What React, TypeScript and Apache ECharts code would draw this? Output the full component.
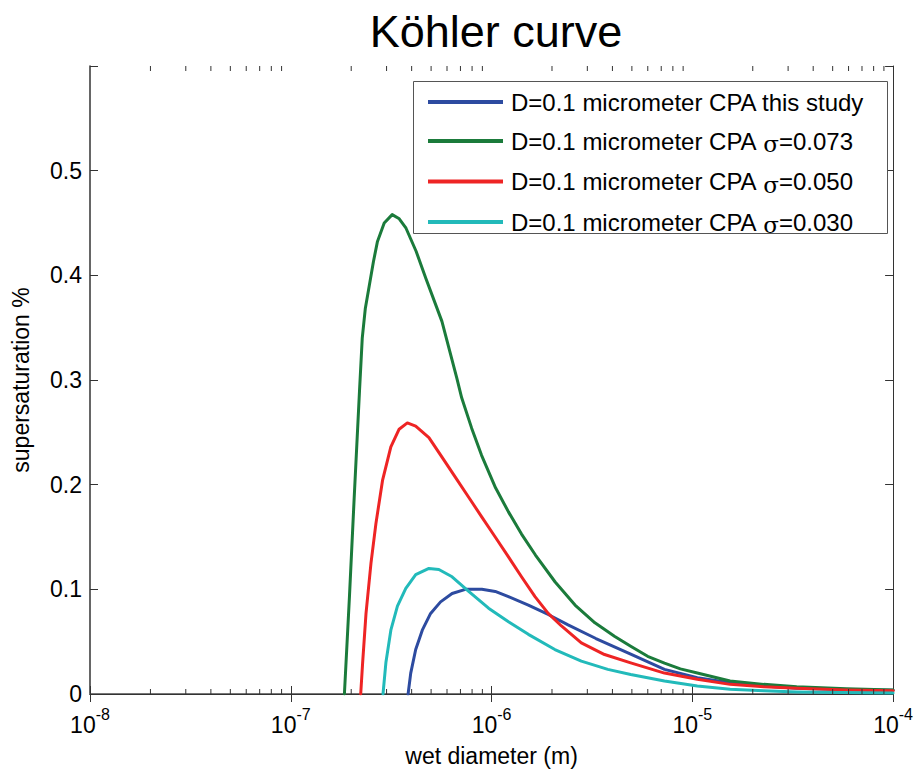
import React, { useEffect, useRef } from "react";
import * as echarts from "echarts";

// ---- data ----
const seriesNames = [
  "D=0.1 micrometer CPA this study",
  "D=0.1 micrometer CPA σ=0.073",
  "D=0.1 micrometer CPA σ=0.050",
  "D=0.1 micrometer CPA σ=0.030",
];
const seriesColors = ["#2D4BA0", "#1B7B3B", "#EE2424", "#22BABA"];

// this study
const diamStudy = [3.84e-7, 3.958e-7, 4.19e-7, 4.519e-7, 4.972e-7, 5.572e-7, 6.36e-7, 7.41e-7, 8.95e-7, 1.043e-6, 1.214e-6, 1.525e-6, 1.915e-6, 2.405e-6, 3.31e-6, 4.933e-6, 7.267e-6, 1.059e-5, 1.542e-5, 2.272e-5, 3.31e-5, 7.1e-5, 1e-4];
const ssStudy = [0, 0.02, 0.0425, 0.061, 0.077, 0.088, 0.096, 0.1, 0.1, 0.098, 0.093, 0.085, 0.076, 0.066, 0.053, 0.038, 0.0235, 0.0155, 0.0107, 0.0076, 0.0054, 0.0038, 0.0035];

// sigma = 0.073
const diam073 = [1.85e-7, 1.96e-7, 2.07e-7, 2.2e-7, 2.27e-7, 2.35e-7, 2.46e-7, 2.58e-7, 2.7e-7, 2.92e-7, 3.2e-7, 3.47e-7, 3.75e-7, 4.21e-7, 4.71e-7, 5.66e-7, 6.71e-7, 7.1e-7, 7.96e-7, 8.92e-7, 1.047e-6, 1.214e-6, 1.408e-6, 1.651e-6, 2.074e-6, 2.605e-6, 3.272e-6, 4.111e-6, 4.933e-6, 5.99e-6, 7.267e-6, 8.72e-6, 1.059e-5, 1.542e-5, 2.272e-5, 3.31e-5, 5.852e-5, 1e-4];
const ss073 = [0, 0.093, 0.188, 0.29, 0.34, 0.368, 0.39, 0.413, 0.432, 0.45, 0.458, 0.454, 0.445, 0.423, 0.397, 0.356, 0.302, 0.283, 0.254, 0.228, 0.197, 0.174, 0.153, 0.133, 0.107, 0.085, 0.068, 0.055, 0.0456, 0.036, 0.0295, 0.024, 0.02, 0.0124, 0.0092, 0.0069, 0.005, 0.0038];

// sigma = 0.050
const diam050 = [2.23e-7, 2.28e-7, 2.37e-7, 2.509e-7, 2.656e-7, 2.864e-7, 3.151e-7, 3.465e-7, 3.807e-7, 4.19e-7, 4.876e-7, 5.675e-7, 6.61e-7, 7.693e-7, 8.95e-7, 1.043e-6, 1.214e-6, 1.41e-6, 1.646e-6, 1.915e-6, 2.229e-6, 2.8e-6, 3.655e-6, 4.933e-6, 7.267e-6, 1.059e-5, 1.542e-5, 2.272e-5, 3.31e-5, 5.852e-5, 1e-4];
const ss050 = [0, 0.03, 0.077, 0.125, 0.163, 0.204, 0.236, 0.253, 0.259, 0.256, 0.245, 0.226, 0.207, 0.188, 0.169, 0.15, 0.131, 0.112, 0.093, 0.077, 0.065, 0.0488, 0.0377, 0.0298, 0.02, 0.014, 0.0092, 0.0069, 0.0054, 0.0038, 0.003];

// sigma = 0.030
const diam030 = [2.88e-7, 2.977e-7, 3.151e-7, 3.398e-7, 3.74e-7, 4.19e-7, 4.876e-7, 5.465e-7, 6.36e-7, 7.693e-7, 9.663e-7, 1.214e-6, 1.525e-6, 2.067e-6, 2.8e-6, 3.795e-6, 4.933e-6, 7.267e-6, 1.059e-5, 1.542e-5, 2.272e-5, 3.31e-5, 7.1e-5, 1e-4];
const ss030 = [0, 0.03, 0.061, 0.084, 0.101, 0.114, 0.12, 0.119, 0.112, 0.098, 0.082, 0.069, 0.057, 0.0425, 0.0314, 0.0235, 0.0187, 0.0124, 0.0076, 0.0045, 0.003, 0.002, 0.0013, 0.001];

const minorTickValues = [
  2e-8, 3e-8, 4e-8, 5e-8, 6e-8, 7e-8, 8e-8, 9e-8,
  2e-7, 3e-7, 4e-7, 5e-7, 6e-7, 7e-7, 8e-7, 9e-7,
  2e-6, 3e-6, 4e-6, 5e-6, 6e-6, 7e-6, 8e-6, 9e-6,
  2e-5, 3e-5, 4e-5, 5e-5, 6e-5, 7e-5, 8e-5, 9e-5,
];
const yTicks = [0, 0.1, 0.2, 0.3, 0.4, 0.5];

const FONT = "'Liberation Sans', Arial, Helvetica, sans-serif";

function zip(xs: number[], ys: number[]) {
  return xs.map((x, i) => [x, ys[i]]);
}

export default function App() {
  const ref = useRef<HTMLDivElement>(null);

  useEffect(() => {
    if (!ref.current) return;
    const chart = echarts.init(ref.current, null, { renderer: "svg" });

    const datasets = [
      zip(diamStudy, ssStudy),
      zip(diam073, ss073),
      zip(diam050, ss050),
      zip(diam030, ss030),
    ];

    const lineSeries = datasets.map((d, i) => ({
      type: "line",
      name: seriesNames[i],
      data: d,
      showSymbol: false,
      smooth: false,
      clip: true,
      z: 3,
      lineStyle: { color: seriesColors[i], width: 3, join: "round", cap: "round" },
      itemStyle: { color: seriesColors[i] },
    }));

    const expOf = (v: number) => Math.round(Math.log10(v));

    const option: any = {
      animation: false,
      backgroundColor: "#ffffff",
      title: {
        text: "Köhler curve",
        left: 491,
        top: 4,
        textAlign: "center",
        textStyle: { fontFamily: FONT, fontSize: 45, fontWeight: "normal", color: "#000" },
      },
      grid: { left: 90, right: 20, top: 66, bottom: 74, containLabel: false },
      xAxis: [
        {
          type: "log",
          logBase: 10,
          min: 1e-8,
          max: 1e-4,
          position: "bottom",
          name: "wet diameter (m)",
          nameLocation: "middle",
          nameGap: 50,
          nameTextStyle: { fontFamily: FONT, fontSize: 23, color: "#000" },
          axisLine: { show: true, lineStyle: { color: "#777", width: 2 } },
          axisTick: { show: true, inside: true, length: 8, lineStyle: { color: "#333" } },
          splitLine: { show: false },
          axisLabel: {
            margin: 12,
            formatter: (v: number) => `{b|10}{s|${expOf(v)}}`,
            rich: {
              b: { fontFamily: FONT, fontSize: 23, color: "#000", verticalAlign: "bottom", lineHeight: 30 },
              s: { fontFamily: FONT, fontSize: 16, color: "#000", verticalAlign: "top", lineHeight: 26 },
            },
          },
        },
        {
          type: "log",
          logBase: 10,
          min: 1e-8,
          max: 1e-4,
          position: "top",
          axisLine: { show: true, lineStyle: { color: "#333", width: 1 } },
          axisTick: { show: true, inside: true, length: 8, lineStyle: { color: "#333" } },
          axisLabel: { show: false },
          splitLine: { show: false },
        },
      ],
      yAxis: [
        {
          type: "value",
          min: 0,
          max: 0.6,
          interval: 0.1,
          position: "left",
          name: "supersaturation %",
          nameLocation: "middle",
          nameGap: 58,
          nameRotate: 90,
          nameTextStyle: { fontFamily: FONT, fontSize: 23, color: "#000" },
          axisLine: { show: true, lineStyle: { color: "#333", width: 1.5 } },
          axisTick: { show: true, inside: true, length: 8, lineStyle: { color: "#333" } },
          splitLine: { show: false },
          axisLabel: {
            margin: 8,
            fontFamily: FONT,
            fontSize: 23,
            color: "#000",
            formatter: (v: number) => {
              const hit = yTicks.find((t) => Math.abs(t - v) < 1e-9);
              if (hit === undefined) return "";
              return hit === 0 ? "0" : hit.toFixed(1);
            },
          },
        },
        {
          type: "value",
          min: 0,
          max: 0.6,
          interval: 0.1,
          position: "right",
          axisLine: { show: true, lineStyle: { color: "#333", width: 1 } },
          axisTick: { show: true, inside: true, length: 8, lineStyle: { color: "#333" } },
          axisLabel: { show: false },
          splitLine: { show: false },
        },
      ],
      legend: {
        data: seriesNames,
        orient: "vertical",
        left: 428,
        top: 89,
        padding: 0,
        itemGap: 11.5,
        itemWidth: 75,
        itemHeight: 4,
        icon: "rect",
        z: 10,
        textStyle: {
          fontFamily: FONT,
          fontSize: 24,
          color: "#000",
          lineHeight: 26,
          padding: [0, 0, 0, 3],
          rich: {
            g: { fontFamily: "'DejaVu Serif', 'Liberation Serif', serif", fontSize: 23, color: "#000", lineHeight: 20, padding: [6, 0, 0, 0] },
          },
        },
        formatter: (name: string) => name.replace("σ", "{g|σ}"),
      },
      graphic: [
        {
          type: "rect",
          z: 5,
          shape: { x: 413.5, y: 81.5, width: 474, height: 152 },
          style: { fill: "#ffffff", stroke: "#555", lineWidth: 1 },
        },
      ],
      series: [
        ...lineSeries,
        {
          type: "custom",
          name: "minorTicks",
          xAxisIndex: 0,
          yAxisIndex: 0,
          data: minorTickValues.map((v) => [v]),
          silent: true,
          clip: false,
          z: 4,
          renderItem: (params: any, api: any) => {
            const v = api.value(0);
            const b = api.coord([v, 0]);
            const t = api.coord([v, 0.6]);
            return {
              type: "group",
              children: [
                { type: "line", shape: { x1: b[0], y1: b[1], x2: b[0], y2: b[1] - 5 }, style: { stroke: "#333", lineWidth: 1 } },
                { type: "line", shape: { x1: t[0], y1: t[1], x2: t[0], y2: t[1] + 5 }, style: { stroke: "#333", lineWidth: 1 } },
              ],
            };
          },
        },
      ],
    };

    chart.setOption(option);
    return () => chart.dispose();
  }, []);

  return <div ref={ref} style={{ position: "absolute", left: 0, top: 0, width: 916, height: 772 }} />;
}
